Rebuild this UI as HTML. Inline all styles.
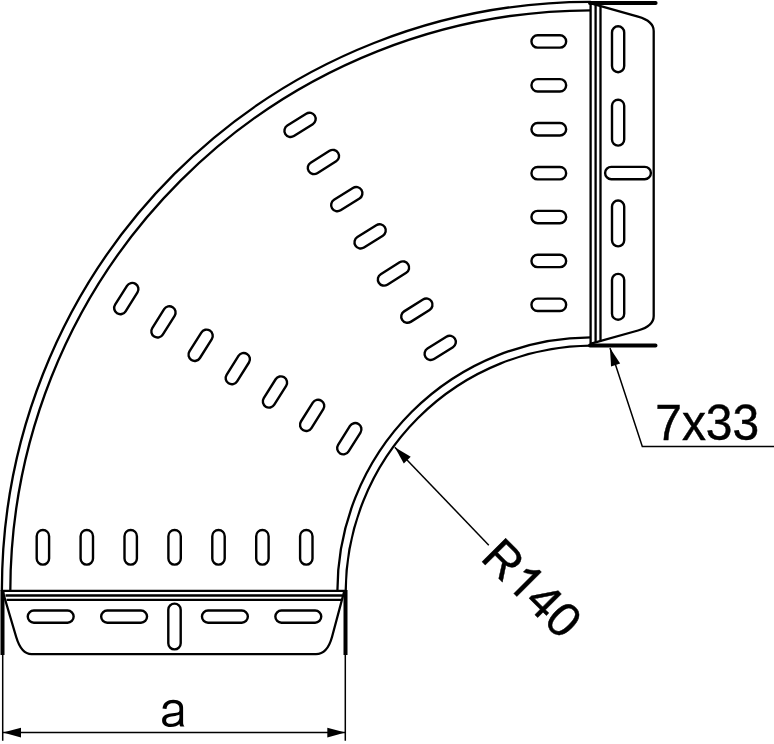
<!DOCTYPE html>
<html><head><meta charset="utf-8"><style>
html,body{margin:0;padding:0;background:#fff;overflow:hidden}
svg{display:block;will-change:transform}
text{font-family:"Liberation Sans",sans-serif;fill:#000}
</style></head><body>
<svg width="774" height="744" viewBox="0 0 774 744">
<g fill="none" stroke="#000" stroke-width="2.3" stroke-linejoin="round">
<path d="M1.90 590.9 A588.10 588.10 0 0 1 590.9 1.90"/><path d="M10.30 590.9 A581.50 581.50 0 0 1 590.9 10.30"/><path d="M345.71 590.9 A246.80 246.80 0 0 1 590.9 345.71"/><path d="M337.40 590.9 A254.00 254.00 0 0 1 590.9 337.40"/>
<path d="M2.6 591 L16.2 637 Q21.3 654.1 31.5 654.1 L316 654.1 Q327.3 654.1 332 637 L344.3 591"/><path d="M2.5 590.9 H345.5 M5.5 595.5 H342.6 M6.6 599.9 H341.4"/><path d="M2.5 590 V655 M345.5 590 V655" stroke-width="4.0" stroke-linecap="butt"/>
<rect stroke-width="2.4" x="36.70" y="529.95" width="12.40" height="34.70" rx="6.20"/>
<rect stroke-width="2.4" x="80.60" y="529.95" width="12.40" height="34.70" rx="6.20"/>
<rect stroke-width="2.4" x="124.50" y="529.95" width="12.40" height="34.70" rx="6.20"/>
<rect stroke-width="2.4" x="168.40" y="529.95" width="12.40" height="34.70" rx="6.20"/>
<rect stroke-width="2.4" x="212.30" y="529.95" width="12.40" height="34.70" rx="6.20"/>
<rect stroke-width="2.4" x="256.20" y="529.95" width="12.40" height="34.70" rx="6.20"/>
<rect stroke-width="2.4" x="300.10" y="529.95" width="12.40" height="34.70" rx="6.20"/>
<rect stroke-width="2.4" x="343.10" y="421.36" width="12.40" height="34.70" rx="6.20" transform="rotate(32.15 349.30 438.71)"/>
<rect stroke-width="2.4" x="305.93" y="398.00" width="12.40" height="34.70" rx="6.20" transform="rotate(32.15 312.13 415.35)"/>
<rect stroke-width="2.4" x="268.76" y="374.64" width="12.40" height="34.70" rx="6.20" transform="rotate(32.15 274.96 391.99)"/>
<rect stroke-width="2.4" x="231.59" y="351.28" width="12.40" height="34.70" rx="6.20" transform="rotate(32.15 237.79 368.63)"/>
<rect stroke-width="2.4" x="194.42" y="327.92" width="12.40" height="34.70" rx="6.20" transform="rotate(32.15 200.62 345.27)"/>
<rect stroke-width="2.4" x="157.25" y="304.56" width="12.40" height="34.70" rx="6.20" transform="rotate(32.15 163.45 321.91)"/>
<rect stroke-width="2.4" x="120.09" y="281.20" width="12.40" height="34.70" rx="6.20" transform="rotate(32.15 126.29 298.55)"/>
<rect stroke-width="2.4" x="27.75" y="610.50" width="45.90" height="12.20" rx="6.10"/>
<rect stroke-width="2.4" x="101.15" y="610.50" width="45.90" height="12.20" rx="6.10"/>
<rect stroke-width="2.4" x="201.95" y="610.50" width="45.90" height="12.20" rx="6.10"/>
<rect stroke-width="2.4" x="275.35" y="610.50" width="45.90" height="12.20" rx="6.10"/>
<rect stroke-width="2.4" x="168.30" y="603.60" width="12.40" height="45.80" rx="6.20"/>
<path d="M591 3.4 L638 16.6 Q653.7 21 653.7 31 L653.7 316 Q653.7 326.1 638 330.5 L591 343.7"/><path d="M590.6 2.9 V345.6 M595.6 5 V343 M600.5 6.3 V341.6"/><path d="M590 2.9 H655.6 M590 345.6 H655.5" stroke-width="4.0" stroke-linecap="round"/>
<g transform="translate(1.5 -1.45) matrix(0 1 1 0 0 0)">
<rect stroke-width="2.4" x="36.70" y="529.95" width="12.40" height="34.70" rx="6.20"/>
<rect stroke-width="2.4" x="80.60" y="529.95" width="12.40" height="34.70" rx="6.20"/>
<rect stroke-width="2.4" x="124.50" y="529.95" width="12.40" height="34.70" rx="6.20"/>
<rect stroke-width="2.4" x="168.40" y="529.95" width="12.40" height="34.70" rx="6.20"/>
<rect stroke-width="2.4" x="212.30" y="529.95" width="12.40" height="34.70" rx="6.20"/>
<rect stroke-width="2.4" x="256.20" y="529.95" width="12.40" height="34.70" rx="6.20"/>
<rect stroke-width="2.4" x="300.10" y="529.95" width="12.40" height="34.70" rx="6.20"/>
<rect stroke-width="2.4" x="343.10" y="421.36" width="12.40" height="34.70" rx="6.20" transform="rotate(32.15 349.30 438.71)"/>
<rect stroke-width="2.4" x="305.93" y="398.00" width="12.40" height="34.70" rx="6.20" transform="rotate(32.15 312.13 415.35)"/>
<rect stroke-width="2.4" x="268.76" y="374.64" width="12.40" height="34.70" rx="6.20" transform="rotate(32.15 274.96 391.99)"/>
<rect stroke-width="2.4" x="231.59" y="351.28" width="12.40" height="34.70" rx="6.20" transform="rotate(32.15 237.79 368.63)"/>
<rect stroke-width="2.4" x="194.42" y="327.92" width="12.40" height="34.70" rx="6.20" transform="rotate(32.15 200.62 345.27)"/>
<rect stroke-width="2.4" x="157.25" y="304.56" width="12.40" height="34.70" rx="6.20" transform="rotate(32.15 163.45 321.91)"/>
<rect stroke-width="2.4" x="120.09" y="281.20" width="12.40" height="34.70" rx="6.20" transform="rotate(32.15 126.29 298.55)"/>
<rect stroke-width="2.4" x="27.75" y="610.50" width="45.90" height="12.20" rx="6.10"/>
<rect stroke-width="2.4" x="101.15" y="610.50" width="45.90" height="12.20" rx="6.10"/>
<rect stroke-width="2.4" x="201.95" y="610.50" width="45.90" height="12.20" rx="6.10"/>
<rect stroke-width="2.4" x="275.35" y="610.50" width="45.90" height="12.20" rx="6.10"/>
<rect stroke-width="2.4" x="168.30" y="603.60" width="12.40" height="45.80" rx="6.20"/>
</g>
</g>
<g stroke-width="1.5" stroke="#000" fill="none">
<path d="M2.7 654.8 V740.7 M345.3 654.8 V740.7"/>
<path d="M3 732.6 H345.3"/>
<path d="M610 348 L642.3 446.5 H774"/>
<path d="M394.8 447.2 L488.8 545.2"/>
</g>
<path d="M3.00 732.60 L21.00 737.40 L21.00 727.80 Z" fill="#000" stroke="none"/><path d="M345.30 732.60 L327.30 727.80 L327.30 737.40 Z" fill="#000" stroke="none"/>
<path d="M610.00 348.00 L611.05 366.60 L620.17 363.61 Z" fill="#000" stroke="none"/>
<path d="M394.80 447.20 L403.80 463.51 L410.72 456.87 Z" fill="#000" stroke="none"/>

<path d="M162.5 708.5 C163.2 702.6 167.6 699.8 173.2 699.8 C179.4 699.8 183.1 702.6 183.1 707.6 L183.1 722.3 C183.1 724.3 183.6 725.6 184.5 726.6 L180.3 726.6 C179.8 725.9 179.5 725.1 179.4 724.1 C177.5 725.9 174.6 727.1 170.6 727.1 C165.4 727.1 162.1 724.4 162.1 720.5 C162.1 716.1 165.6 714.3 170.6 713.6 L176.4 712.8 C178.6 712.5 179.4 711.9 179.4 710.3 L179.4 708.4 C179.4 705 177 703.3 173.1 703.3 C169.4 703.3 167.1 704.9 166.5 709.0 Z M179.4 714.6 C178.6 715.2 177.2 715.6 175.3 715.9 L171.5 716.5 C168 717 166.1 718 166.1 720.4 C166.1 722.6 167.8 723.8 170.9 723.8 C176 723.8 179.4 721.3 179.4 717.5 Z" fill="#000" fill-rule="evenodd" stroke="none" transform="translate(0 0)"/>
<text x="0" y="0" font-size="50.5" transform="translate(655.2 440.2) scale(0.95 1)" stroke="#000" stroke-width="0.45">7x33</text>
<g transform="translate(479.3 559) rotate(45) scale(1.0 1)"><text x="0" y="0" font-size="48.5" stroke="#000" stroke-width="0.45">R</text><path d="M763 0L583 0L583 1147Q518 1085 412 1022Q306 960 222 929L222 1103Q374 1175 488 1278Q602 1381 650 1466L763 1466Z" transform="translate(35.02 0) scale(0.02368 -0.02368)" fill="#000" stroke="#000" stroke-width="19.00"/><text x="61.98" y="0" font-size="48.5" stroke="#000" stroke-width="0.45">40</text></g>

</svg>
</body></html>
